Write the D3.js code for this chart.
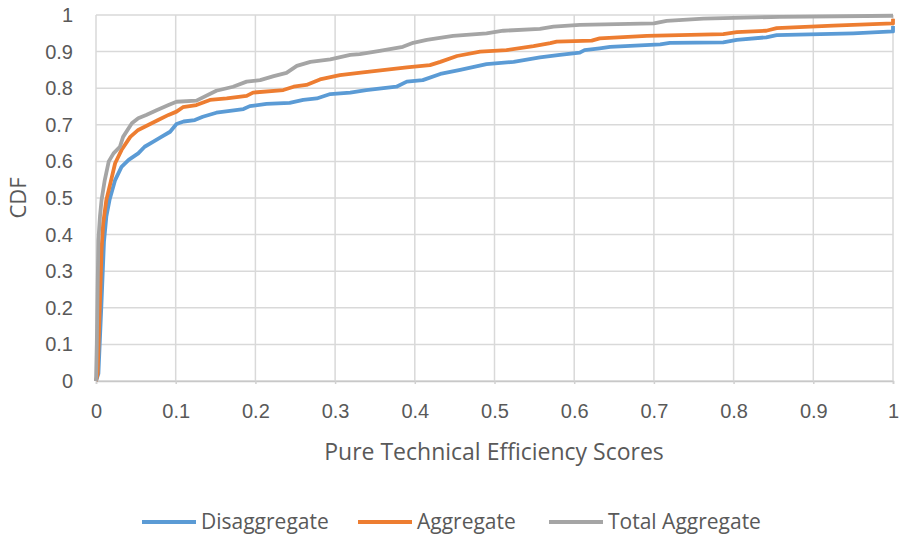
<!DOCTYPE html>
<html>
<head>
<meta charset="utf-8">
<script src="https://cdn.jsdelivr.net/npm/d3@7"></script>
<style>
  html, body { margin: 0; padding: 0; background: #ffffff; }
  svg { display: block; font-family: "Open Sans", "DejaVu Sans", sans-serif; }
</style>
</head>
<body>
<svg id="chart" width="900" height="540"></svg>
<script>
// Empirical CDFs of pure technical efficiency scores
const tickValues = [0, 0.1, 0.2, 0.3, 0.4, 0.5, 0.6, 0.7, 0.8, 0.9, 1];
const seriesNames = ["Disaggregate", "Aggregate", "Total Aggregate"];
const seriesColors = ["#5B9BD5", "#ED7D31", "#A5A5A5"];

const disaggScore = [0, 0.003, 0.007, 0.010, 0.013, 0.017, 0.024, 0.032, 0.041, 0.053, 0.061, 0.072, 0.082, 0.093, 0.101, 0.110, 0.124, 0.134, 0.151, 0.185, 0.193, 0.214, 0.243, 0.260, 0.277, 0.294, 0.319, 0.339, 0.377, 0.390, 0.410, 0.432, 0.457, 0.490, 0.524, 0.557, 0.582, 0.607, 0.613, 0.632, 0.645, 0.708, 0.720, 0.787, 0.804, 0.841, 0.854, 0.950, 1.0, 1.0];
const disaggCdf   = [0, 0.02, 0.22, 0.38, 0.45, 0.495, 0.549, 0.585, 0.604, 0.622, 0.640, 0.654, 0.667, 0.681, 0.702, 0.709, 0.713, 0.722, 0.733, 0.743, 0.751, 0.757, 0.760, 0.768, 0.772, 0.784, 0.788, 0.795, 0.804, 0.818, 0.822, 0.839, 0.850, 0.866, 0.872, 0.884, 0.891, 0.897, 0.904, 0.909, 0.913, 0.920, 0.924, 0.925, 0.932, 0.939, 0.945, 0.950, 0.955, 0.970];

const aggScore = [0, 0.002, 0.005, 0.007, 0.009, 0.013, 0.018, 0.024, 0.032, 0.043, 0.053, 0.068, 0.078, 0.091, 0.101, 0.109, 0.126, 0.143, 0.164, 0.189, 0.197, 0.235, 0.248, 0.264, 0.281, 0.306, 0.335, 0.390, 0.419, 0.432, 0.453, 0.482, 0.515, 0.549, 0.570, 0.578, 0.622, 0.632, 0.691, 0.787, 0.804, 0.841, 0.854, 0.925, 1.0, 1.0];
const aggCdf   = [0, 0.02, 0.22, 0.36, 0.43, 0.495, 0.540, 0.595, 0.631, 0.667, 0.686, 0.702, 0.713, 0.727, 0.736, 0.748, 0.754, 0.768, 0.772, 0.779, 0.788, 0.795, 0.804, 0.809, 0.824, 0.836, 0.843, 0.857, 0.863, 0.872, 0.888, 0.900, 0.904, 0.915, 0.923, 0.927, 0.930, 0.936, 0.943, 0.948, 0.953, 0.957, 0.964, 0.971, 0.977, 0.990];

const totalScore = [0, 0.001, 0.002, 0.003, 0.005, 0.007, 0.011, 0.016, 0.022, 0.030, 0.034, 0.045, 0.053, 0.063, 0.076, 0.091, 0.101, 0.126, 0.151, 0.172, 0.189, 0.206, 0.223, 0.239, 0.252, 0.269, 0.294, 0.319, 0.331, 0.356, 0.385, 0.398, 0.415, 0.448, 0.490, 0.511, 0.557, 0.574, 0.607, 0.700, 0.716, 0.762, 0.858, 1.0];
const totalCdf   = [0, 0.10, 0.25, 0.385, 0.45, 0.495, 0.549, 0.600, 0.622, 0.640, 0.667, 0.704, 0.718, 0.727, 0.740, 0.754, 0.763, 0.766, 0.793, 0.804, 0.818, 0.822, 0.833, 0.842, 0.861, 0.872, 0.879, 0.891, 0.893, 0.902, 0.913, 0.924, 0.932, 0.943, 0.950, 0.957, 0.962, 0.968, 0.973, 0.977, 0.984, 0.990, 0.995, 0.998];

const seriesData = [
  d3.zip(disaggScore, disaggCdf),
  d3.zip(aggScore, aggCdf),
  d3.zip(totalScore, totalCdf)
];

const svg = d3.select("#chart");
const textColor = "#595959";
const gridColor = "#D9D9D9";

const x = d3.scaleLinear().domain([0, 1]).range([96, 893]);
const y = d3.scaleLinear().domain([0, 1]).range([381, 15]);

// Gridlines
const grid = svg.append("g");
grid.selectAll("line.h").data(tickValues).join("line")
  .attr("x1", x(0)).attr("x2", x(1))
  .attr("y1", d => y(d)).attr("y2", d => y(d))
  .attr("stroke", gridColor).attr("stroke-width", 1.5);
grid.selectAll("line.v").data(tickValues).join("line")
  .attr("y1", y(0)).attr("y2", y(1))
  .attr("x1", d => x(d)).attr("x2", d => x(d))
  .attr("stroke", gridColor).attr("stroke-width", 1.5);

// Axes
const xAxis = svg.append("g")
  .attr("transform", `translate(0,${y(0)})`)
  .call(d3.axisBottom(x).tickValues(tickValues).tickFormat(d3.format("~g")).tickSize(3));
xAxis.select(".domain").attr("stroke", "#C8C8C8").attr("stroke-width", 1.5);
xAxis.selectAll(".tick line").attr("stroke", "#D0D0D0").attr("stroke-width", 1.5);
xAxis.selectAll(".tick text").attr("fill", textColor).attr("font-size", 20).attr("dy", "0.35em").attr("y", 30);

const yAxis = svg.append("g")
  .attr("transform", `translate(${x(0)},0)`)
  .call(d3.axisLeft(y).tickValues(tickValues).tickFormat(d3.format("~g")).tickSize(0).tickPadding(23));
yAxis.select(".domain").remove();
yAxis.selectAll(".tick text").attr("fill", textColor).attr("font-size", 20);

// Axis titles
svg.append("text")
  .attr("x", 494).attr("y", 452).attr("text-anchor", "middle").attr("dy", "0.35em")
  .attr("fill", textColor).attr("font-size", 23)
  .text("Pure Technical Efficiency Scores");
svg.append("text")
  .attr("transform", "translate(18,198) rotate(-90)")
  .attr("text-anchor", "middle").attr("dy", "0.35em")
  .attr("fill", textColor).attr("font-size", 22)
  .text("CDF");

// CDF lines
const line = d3.line().x(d => x(d[0])).y(d => y(d[1]));
svg.append("g").selectAll("path").data(seriesData).join("path")
  .attr("d", line)
  .attr("fill", "none")
  .attr("stroke", (d, i) => seriesColors[i])
  .attr("stroke-width", 3.8)
  .attr("stroke-linejoin", "round");

// Legend
const legendX = [142, 358, 549];
const legend = svg.append("g").selectAll("g").data(seriesNames).join("g")
  .attr("transform", (d, i) => `translate(${legendX[i]},522)`);
legend.append("line")
  .attr("x1", 0).attr("x2", 54).attr("y1", 0).attr("y2", 0)
  .attr("stroke", (d, i) => seriesColors[i]).attr("stroke-width", 4);
legend.append("text")
  .attr("x", 59).attr("dy", "0.35em")
  .attr("fill", textColor).attr("font-size", 21)
  .text(d => d);
</script>
</body>
</html>
